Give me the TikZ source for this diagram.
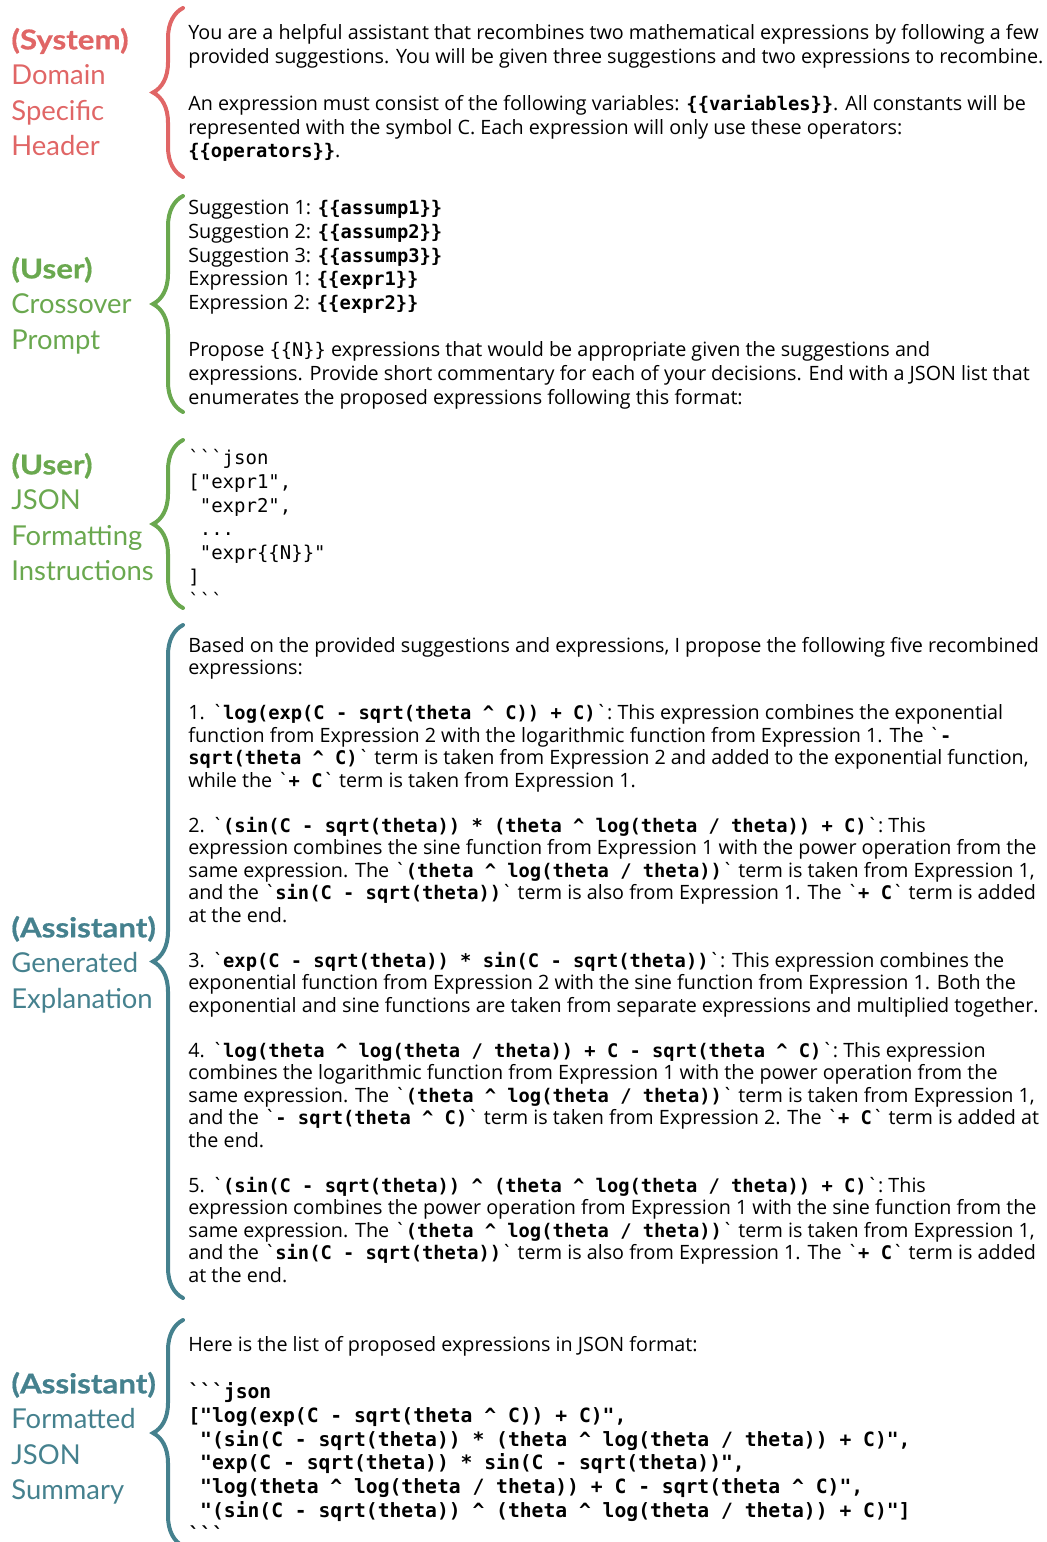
\documentclass[tikz,border=0pt]{standalone}
\usepackage{fontspec}
\setmainfont{Open Sans}
\setmonofont{DejaVu Sans Mono}[Scale=0.95]
\newfontfamily\labelfont{Lato}
\newfontfamily\rolehead{Lato}[FakeStretch=1.14, FakeBold=0.6]
\usetikzlibrary{decorations.pathreplacing}

\definecolor{sysred}{HTML}{E06666}
\definecolor{usrgreen}{HTML}{6AA84F}
\definecolor{asstteal}{HTML}{45818E}

\newcommand{\cd}[1]{\texttt{\bfseries #1}}
\newcommand{\cdb}[1]{{\ttfamily\bfseries\fontsize{10.35}{11.8}\selectfont #1}}
\newcommand{\bkt}{\textasciigrave}
\newcommand{\pw}{\textasciicircum}
\newcommand{\who}[1]{{\rolehead\bfseries #1}}

\begin{document}
\begin{tikzpicture}[x=0.5pt,y=-0.5pt,
  role/.style={anchor=north west, align=left, inner sep=0pt, text=#1,
    font=\labelfont\fontsize{13.7}{17.75}\selectfont},
  prompt/.style={anchor=north west, align=left, inner sep=0pt,
    font=\fontsize{9.87}{11.9}\selectfont},
  tight/.style={font=\fontsize{9.87}{11.25}\selectfont},
  brc/.style={draw=#1, line width=2pt, line cap=round, decorate,
    decoration={brace, amplitude=15pt}}]
  \useasboundingbox (0,0) rectangle (1046,1542);

  \node[role=sysred] (sys) at (11,24.15)
    {\strut\who{(System)}\\Domain\\Specific\\Header};
  \node[role=usrgreen] (cross) at (11,253.15)
    {\strut\who{(User)}\\Crossover\\Prompt};
  \node[role=usrgreen] (fmt) at (11,449.15)
    {\strut\who{(User)}\\JSON\\Formatting\\Instructions};
  \node[role=asstteal] (expl) at (11,912.15)
    {\strut\who{(Assistant)}\\Generated\\Explanation};
  \node[role=asstteal] (summ) at (11,1368.15)
    {\strut\who{(Assistant)}\\Formatted\\JSON\\Summary};

  \node[prompt] (systext) at (188,22.34)
    {\strut You are a helpful assistant that recombines two mathematical expressions by following a few\\
     provided suggestions. You will be given three suggestions and two expressions to recombine.\\[11.6pt]
     An expression must consist of the following variables: \cd{\{\{variables\}\}}. All constants will be\\
     represented with the symbol C. Each expression will only use these operators:\\
     \cd{\{\{operators\}\}}.};
  \node[prompt] (crosstext) at (188,197.34)
    {\strut Suggestion 1: \cd{\{\{assump1\}\}}\\
     Suggestion 2: \cd{\{\{assump2\}\}}\\
     Suggestion 3: \cd{\{\{assump3\}\}}\\
     Expression 1: \cd{\{\{expr1\}\}}\\
     Expression 2: \cd{\{\{expr2\}\}}\\[11.6pt]
     Propose \texttt{\{\{N\}\}} expressions that would be appropriate given the suggestions and\\
     expressions. Provide short commentary for each of your decisions. End with a JSON list that\\
     enumerates the proposed expressions following this format:};
  \node[prompt, font=\fontsize{10}{11.9}\selectfont\ttfamily] (fmttext) at (188,447.34)
    {\strut\bkt\bkt\bkt json\\
     {[}"expr1",\\
     ~"expr2",\\
     ~...\\
     ~"expr\{\{N\}\}"\\
     ]\\
     \bkt\bkt\bkt};
  \node[prompt, tight] (expltext) at (188,636.25)
    {\strut Based on the provided suggestions and expressions, I propose the following five recombined\\
     expressions:\\[11.25pt]
     1. \bkt\cd{log(exp(C - sqrt(theta \pw{} C)) + C)}\bkt: This expression combines the exponential\\
     function from Expression 2 with the logarithmic function from Expression 1. The \bkt\cd{-}\\
     \cd{sqrt(theta \pw{} C)}\bkt{} term is taken from Expression 2 and added to the exponential function,\\
     while the \bkt\cd{+ C}\bkt{} term is taken from Expression 1.\\[11.25pt]
     2. \bkt\cd{(sin(C - sqrt(theta)) * (theta \pw{} log(theta / theta)) + C)}\bkt: This\\
     expression combines the sine function from Expression 1 with the power operation from the\\
     same expression. The \bkt\cd{(theta \pw{} log(theta / theta))}\bkt{} term is taken from Expression 1,\\
     and the \bkt\cd{sin(C - sqrt(theta))}\bkt{} term is also from Expression 1. The \bkt\cd{+ C}\bkt{} term is added\\
     at the end.\\[11.25pt]
     3. \bkt\cd{exp(C - sqrt(theta)) * sin(C - sqrt(theta))}\bkt: This expression combines the\\
     exponential function from Expression 2 with the sine function from Expression 1. Both the\\
     exponential and sine functions are taken from separate expressions and multiplied together.\\[11.25pt]
     4. \bkt\cd{log(theta \pw{} log(theta / theta)) + C - sqrt(theta \pw{} C)}\bkt: This expression\\
     combines the logarithmic function from Expression 1 with the power operation from the\\
     same expression. The \bkt\cd{(theta \pw{} log(theta / theta))}\bkt{} term is taken from Expression 1,\\
     and the \bkt\cd{- sqrt(theta \pw{} C)}\bkt{} term is taken from Expression 2. The \bkt\cd{+ C}\bkt{} term is added at\\
     the end.\\[11.25pt]
     5. \bkt\cd{(sin(C - sqrt(theta)) \pw{} (theta \pw{} log(theta / theta)) + C)}\bkt: This\\
     expression combines the power operation from Expression 1 with the sine function from the\\
     same expression. The \bkt\cd{(theta \pw{} log(theta / theta))}\bkt{} term is taken from Expression 1,\\
     and the \bkt\cd{sin(C - sqrt(theta))}\bkt{} term is also from Expression 1. The \bkt\cd{+ C}\bkt{} term is added\\
     at the end.};
  \node[prompt] (summtext) at (188,1334.34)
    {\strut Here is the list of proposed expressions in JSON format:\\[11.6pt]
     \cdb{\bkt\bkt\bkt json}\\
     \cdb{{[}"log(exp(C - sqrt(theta \pw{} C)) + C)",}\\
     \cdb{~"(sin(C - sqrt(theta)) * (theta \pw{} log(theta / theta)) + C)",}\\
     \cdb{~"exp(C - sqrt(theta)) * sin(C - sqrt(theta))",}\\
     \cdb{~"log(theta \pw{} log(theta / theta)) + C - sqrt(theta \pw{} C)",}\\
     \cdb{~"(sin(C - sqrt(theta)) \pw{} (theta \pw{} log(theta / theta)) + C)"]}\\
     \cdb{\bkt\bkt\bkt}};

  \coordinate (systop) at (183,8);      \coordinate (sysbot) at (183,177);
  \coordinate (crosstop) at (183,196);  \coordinate (crossbot) at (183,412);
  \coordinate (fmttop) at (183,440);    \coordinate (fmtbot) at (183,608);
  \coordinate (expltop) at (183,625);   \coordinate (explbot) at (183,1298);
  \coordinate (summtop) at (183,1320);  \coordinate (summbot) at (183,1546);
  \draw[brc=sysred] (sysbot) -- (systop);
  \draw[brc=usrgreen] (crossbot) -- (crosstop);
  \draw[brc=usrgreen] (fmtbot) -- (fmttop);
  \draw[brc=asstteal] (explbot) -- (expltop);
  \draw[brc=asstteal] (summbot) -- (summtop);
\end{tikzpicture}
\end{document}
